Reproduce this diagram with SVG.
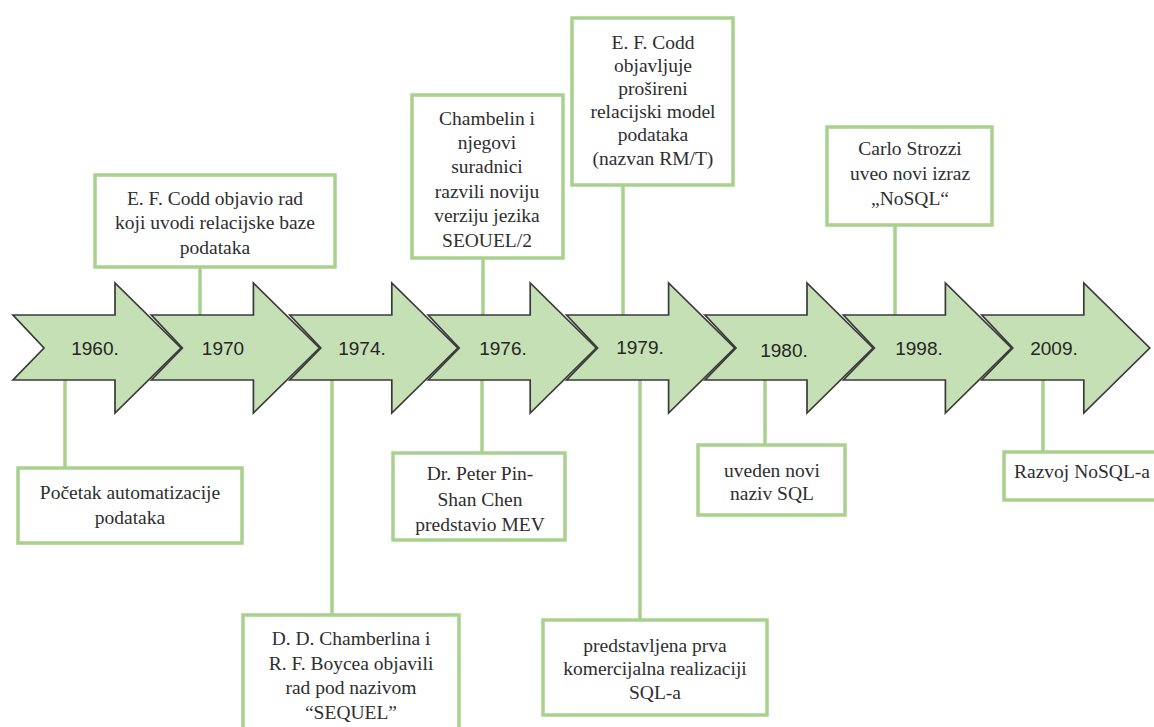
<svg xmlns="http://www.w3.org/2000/svg" width="1154" height="727" viewBox="0 0 1154 727">
<style>
.arrow{fill:#c5e0b4;stroke:#3a3a3a;stroke-width:1.7;stroke-linejoin:miter}
.year{font-family:"Liberation Sans",Arial,sans-serif;font-size:19px;fill:#262626;text-anchor:middle}
.box{fill:#ffffff;stroke:#a9d18e;stroke-width:3.5}
.lbl{font-family:"Liberation Serif","Times New Roman",serif;font-size:19.5px;fill:#2e2e2e;text-anchor:middle}
.con{stroke:#a9d18e;stroke-width:3.5;fill:none}
</style>
<rect width="1154" height="727" fill="#ffffff"/>
<g id="connectors">
<line class="con" x1="65" y1="380" x2="65" y2="468"/>
<line class="con" x1="200" y1="267" x2="200" y2="315"/>
<line class="con" x1="332" y1="380" x2="332" y2="615"/>
<line class="con" x1="483" y1="258" x2="483" y2="315"/>
<line class="con" x1="482" y1="380" x2="482" y2="453"/>
<line class="con" x1="623" y1="185" x2="623" y2="315"/>
<line class="con" x1="640" y1="380" x2="640" y2="620"/>
<line class="con" x1="765" y1="380" x2="765" y2="445"/>
<line class="con" x1="895" y1="225" x2="895" y2="315"/>
<line class="con" x1="1043" y1="380" x2="1043" y2="452"/>
</g>
<g id="timeline">
<g id="y1960"><path class="arrow" d="M13,315 H115 V283 L181,348 L115,413 V380 H13 L44,348 Z"/><text class="year" x="95" y="355">1960.</text></g>
<g id="y1970"><path class="arrow" d="M151.4,315 H253.4 V283 L319.4,348 L253.4,413 V380 H151.4 L182.4,348 Z"/><text class="year" x="223" y="355">1970</text></g>
<g id="y1974"><path class="arrow" d="M289.8,315 H391.8 V283 L457.8,348 L391.8,413 V380 H289.8 L320.8,348 Z"/><text class="year" x="362" y="355">1974.</text></g>
<g id="y1976"><path class="arrow" d="M428.2,315 H530.2 V283 L596.2,348 L530.2,413 V380 H428.2 L459.2,348 Z"/><text class="year" x="503" y="355">1976.</text></g>
<g id="y1979"><path class="arrow" d="M566.6,315 H668.6 V283 L734.6,348 L668.6,413 V380 H566.6 L597.6,348 Z"/><text class="year" x="640" y="354">1979.</text></g>
<g id="y1980"><path class="arrow" d="M705,315 H807 V283 L873,348 L807,413 V380 H705 L736,348 Z"/><text class="year" x="784" y="357">1980.</text></g>
<g id="y1998"><path class="arrow" d="M843.4,315 H945.4 V283 L1011.4,348 L945.4,413 V380 H843.4 L874.4,348 Z"/><text class="year" x="919" y="355">1998.</text></g>
<g id="y2009"><path class="arrow" d="M981.8,315 H1083.8 V283 L1149.8,348 L1083.8,413 V380 H981.8 L1012.8,348 Z"/><text class="year" x="1054" y="355">2009.</text></g>
</g>
<g id="n1970">
<rect class="box" x="95" y="175" width="240" height="92"/>
<text class="lbl" x="215" y="204.5">E. F. Codd objavio rad</text>
<text class="lbl" x="215" y="229">koji uvodi relacijske baze</text>
<text class="lbl" x="215" y="253.5">podataka</text>
</g>
<g id="n1960">
<rect class="box" x="18" y="468" width="224" height="75"/>
<text class="lbl" x="130" y="498.5">Početak automatizacije</text>
<text class="lbl" x="130" y="523.5">podataka</text>
</g>
<g id="n1974">
<rect class="box" x="243" y="615" width="216" height="130"/>
<text class="lbl" x="351" y="644.5">D. D. Chamberlina i</text>
<text class="lbl" x="351" y="669.5">R. F. Boycea objavili</text>
<text class="lbl" x="351" y="694">rad pod nazivom</text>
<text class="lbl" x="351" y="718.5">“SEQUEL”</text>
</g>
<g id="n1976a">
<rect class="box" x="412" y="95" width="151" height="163"/>
<text class="lbl" x="487" y="124.5">Chambelin i</text>
<text class="lbl" x="487" y="148.9">njegovi</text>
<text class="lbl" x="487" y="173.3">suradnici</text>
<text class="lbl" x="487" y="197.7">razvili noviju</text>
<text class="lbl" x="487" y="222.1">verziju jezika</text>
<text class="lbl" x="487" y="246.5">SEOUEL/2</text>
</g>
<g id="n1976b">
<rect class="box" x="393" y="453" width="172" height="87"/>
<text class="lbl" x="480" y="480">Dr. Peter Pin-</text>
<text class="lbl" x="480" y="506">Shan Chen</text>
<text class="lbl" x="480" y="531">predstavio MEV</text>
</g>
<g id="n1979a">
<rect class="box" x="572" y="18" width="161" height="167"/>
<text class="lbl" x="653" y="48.5">E. F. Codd</text>
<text class="lbl" x="653" y="71.7">objavljuje</text>
<text class="lbl" x="653" y="94.9">prošireni</text>
<text class="lbl" x="653" y="118.1">relacijski model</text>
<text class="lbl" x="653" y="141.3">podataka</text>
<text class="lbl" x="653" y="164.5">(nazvan RM/T)</text>
</g>
<g id="n1979b">
<rect class="box" x="543" y="620" width="224" height="95"/>
<text class="lbl" x="655" y="651.5">predstavljena prva</text>
<text class="lbl" x="655" y="675">komercijalna realizaciji</text>
<text class="lbl" x="655" y="698.5">SQL-a</text>
</g>
<g id="n1980">
<rect class="box" x="698" y="445" width="147" height="70"/>
<text class="lbl" x="772" y="476.5">uveden novi</text>
<text class="lbl" x="772" y="499.5">naziv SQL</text>
</g>
<g id="n1998">
<rect class="box" x="827" y="127" width="165" height="98"/>
<text class="lbl" x="910" y="154.5">Carlo Strozzi</text>
<text class="lbl" x="910" y="179.5">uveo novi izraz</text>
<text class="lbl" x="910" y="204.5">„NoSQL“</text>
</g>
<g id="n2009">
<rect class="box" x="1004" y="452" width="162" height="48"/>
<text class="lbl" x="1082" y="478">Razvoj NoSQL-a</text>
</g>
</svg>
